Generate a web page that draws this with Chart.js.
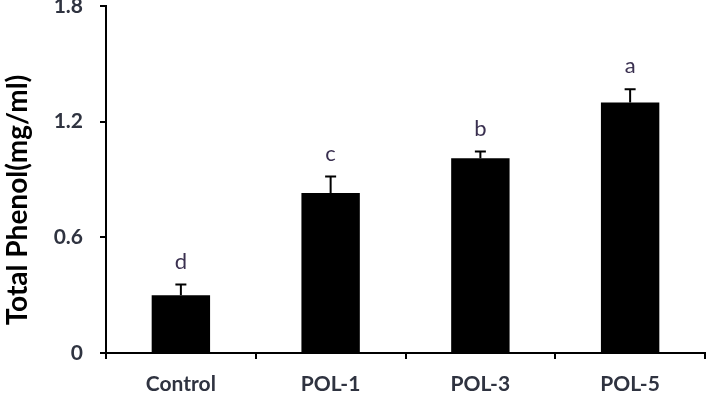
<!DOCTYPE html>
<html>
<head>
<meta charset="utf-8">
<script src="https://cdn.jsdelivr.net/npm/chart.js@4/dist/chart.umd.min.js"></script>
<style>
html,body{margin:0;padding:0;background:#fff;}
#wrap{width:717px;height:396px;position:relative;}
</style>
</head>
<body>
<div id="wrap"><canvas id="c" width="717" height="396"></canvas></div>
<script>
const categories = ['Control', 'POL-1', 'POL-3', 'POL-5'];
const totalPhenol = [0.30, 0.83, 1.01, 1.30];
const errors = [0.055, 0.085, 0.035, 0.068];
const letters = ['d', 'c', 'b', 'a'];
const yTickValues = [0, 0.6, 1.2, 1.8];
const yTickLabels = ['0', '0.6', '1.2', '1.8'];
const yTitle = 'Total Phenol(mg/ml)';

const FONT = 'Lato, "Open Sans", "DejaVu Sans", sans-serif';

const errorPlugin = {
  id: 'errorBarsLetters',
  afterDatasetsDraw(chart) {
    const ctx = chart.ctx;
    const meta = chart.getDatasetMeta(0);
    const y = chart.scales.y;
    ctx.save();
    meta.data.forEach((bar, i) => {
      const x = bar.x;
      const top = y.getPixelForValue(totalPhenol[i]);
      const et = y.getPixelForValue(totalPhenol[i] + errors[i]);
      ctx.strokeStyle = '#000';
      ctx.lineWidth = 2;
      ctx.beginPath();
      ctx.moveTo(x, top);
      ctx.lineTo(x, et);
      ctx.moveTo(x - 5.5, et);
      ctx.lineTo(x + 5.5, et);
      ctx.stroke();
      ctx.fillStyle = '#3a3050';
      ctx.font = '22px ' + FONT;
      ctx.textAlign = 'center';
      ctx.textBaseline = 'alphabetic';
      ctx.fillText(letters[i], x, et - 16);
    });
    ctx.restore();
  },
  afterDraw(chart) {
    const ctx = chart.ctx;
    ctx.save();
    ctx.translate(18, 200);
    ctx.rotate(-Math.PI / 2);
    ctx.fillStyle = '#000';
    ctx.font = 'bold 28px ' + FONT;
    ctx.textAlign = 'center';
    ctx.textBaseline = 'middle';
    ctx.fillText(yTitle, 0, 0);
    ctx.restore();
  }
};

new Chart(document.getElementById('c'), {
  type: 'bar',
  data: {
    labels: categories,
    datasets: [{
      data: totalPhenol,
      backgroundColor: '#000',
      borderColor: '#000',
      borderWidth: 0,
      barPercentage: 0.39,
      categoryPercentage: 1.0
    }]
  },
  options: {
    responsive: false,
    animation: false,
    devicePixelRatio: 1,
    layout: { padding: { top: 6, right: 12, left: 0, bottom: 0 } },
    plugins: { legend: { display: false }, tooltip: { enabled: false } },
    scales: {
      x: {
        afterFit(s) { s.height = 43; s.paddingLeft = 0; s.paddingRight = 0; },
        grid: { display: true, drawOnChartArea: false, drawTicks: true, tickLength: 6, color: '#000', lineWidth: 2, offset: true },
        border: { display: true, color: '#000', width: 2 },
        ticks: { color: '#2f3340', font: { family: FONT, size: 21, weight: 'bold' }, padding: 13, maxRotation: 0 }
      },
      y: {
        min: 0, max: 1.8,
        afterFit(s) { s.width = 106; s.paddingTop = 0; s.paddingBottom = 0; },
        afterBuildTicks(s) { s.ticks = yTickValues.map(v => ({ value: v })); },
        grid: { display: true, drawOnChartArea: false, drawTicks: true, tickLength: 6, color: '#000', lineWidth: 2 },
        border: { display: true, color: '#000', width: 2 },
        ticks: {
          color: '#2f3340',
          font: { family: FONT, size: 21, weight: 'bold' },
          padding: 17,
          callback(v) { const i = yTickValues.indexOf(v); return i >= 0 ? yTickLabels[i] : ''; }
        },
        title: { display: false, text: yTitle }
      }
    }
  },
  plugins: [errorPlugin]
});
</script>
</body>
</html>
